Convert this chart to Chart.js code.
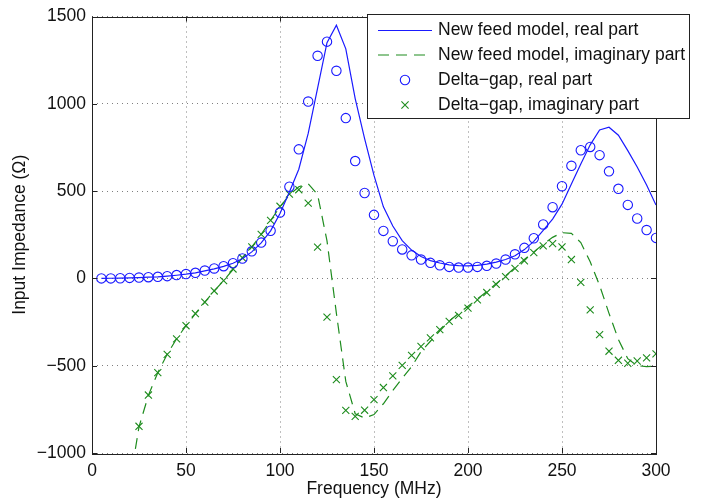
<!DOCTYPE html>
<html>
<head>
<meta charset="utf-8">
<script src="https://cdn.jsdelivr.net/npm/chart.js@4.4.1/dist/chart.umd.min.js"></script>
<style>
  html, body { margin: 0; padding: 0; background: #fff; }
</style>
</head>
<body>
<canvas id="zin" width="715" height="502"></canvas>
<script>
// frequencies (MHz)
const freqModel = [5,10,15,20,25,30,35,40,45,50,55,60,65,70,75,80,85,90,95,100,105,110,115,120,125,130,135,140,145,150,
  155,160,165,170,175,180,185,190,195,200,205,210,215,220,225,230,235,240,245,250,255,260,265,270,275,280,285,290,295,300];
const freqModelImag = [20,25,30,35,40,45,50,55,60,65,70,75,80,85,90,95,100,105,110,115,120,125,130,135,140,145,150,
  155,160,165,170,175,180,185,190,195,200,205,210,215,220,225,230,235,240,245,250,255,260,265,270,275,280,285,290,295,300];
const freqGapReal = freqModel;
const freqGapImag = [25,30,35,40,45,50,55,60,65,70,75,80,85,90,95,100,105,110,115,120,125,130,135,140,145,150,
  155,160,165,170,175,180,185,190,195,200,205,210,215,220,225,230,235,240,245,250,255,260,265,270,275,280,285,290,295,300];

// impedance (ohm)
const modelReal = [0,1,2,3,5,7,9,13,18,24,32,43,55,69,87,112,152,203,272,372,495,625,830,1090,1350,1450,1315,1030,800,590,
  410,300,216,162,125,102,88,78,73,72,75,82,93,108,130,165,212,275,340,425,540,655,765,850,866,820,732,638,535,420];
const modelImag = [-1180,-850,-670,-540,-435,-346,-271,-202,-136,-72,-13,51,118,180,252,332,410,478,525,542,480,215,-200,-590,-775,-800,-780,
  -718,-642,-572,-505,-420,-360,-300,-245,-200,-160,-118,-75,-30,15,62,108,152,195,235,262,258,205,95,-40,-200,-350,-460,-500,-505,-502];
const gapReal = [0,0,1,3,5,7,9,13,19,25,32,45,57,70,87,114,155,205,273,377,525,739,1013,1275,1356,1189,918,672,489,364,
  272,213,166,132,108,89,75,66,62,62,66,72,85,108,138,175,230,309,408,528,645,734,753,706,613,513,421,343,277,232];
const gapImag = [-847,-668,-540,-435,-346,-271,-202,-136,-72,-13,54,118,180,252,332,413,483,508,431,179,-222,-580,-756,-790,-755,-694,
  -625,-558,-498,-441,-390,-341,-293,-246,-212,-170,-123,-81,-34,10,57,101,148,186,199,180,108,-23,-180,-322,-417,-469,-486,-473,-455,-432];

const seriesNames = ["New feed model, real part", "New feed model, imaginary part",
  "Delta\u2212gap, real part", "Delta\u2212gap, imaginary part"];

const pts = (xs, ys) => xs.map((f, i) => ({ x: f, y: ys[i] }));
const FONT = "'Liberation Sans', Arial, Helvetica, sans-serif";
const FSIZE = 17.5;
const BLUE = "#1a1aff";
const GREEN = "#1e8c1e";

const frameAndLegend = {
  id: "frameAndLegend",
  afterDatasetsDraw(chart) {
    const { ctx, chartArea: a, scales: { x, y } } = chart;
    ctx.save();
    // axes box with inward ticks
    ctx.strokeStyle = "#222";
    ctx.lineWidth = 1;
    ctx.strokeRect(Math.round(a.left) + 0.5, Math.round(a.top) + 0.5,
      Math.round(a.right - a.left), Math.round(a.bottom - a.top));
    ctx.beginPath();
    x.ticks.forEach(t => {
      const px = Math.round(x.getPixelForValue(t.value)) + 0.5;
      ctx.moveTo(px, a.bottom); ctx.lineTo(px, a.bottom - 5);
      ctx.moveTo(px, a.top); ctx.lineTo(px, a.top + 5);
    });
    y.ticks.forEach(t => {
      const py = Math.round(y.getPixelForValue(t.value)) + 0.5;
      ctx.moveTo(a.left, py); ctx.lineTo(a.left + 5, py);
      ctx.moveTo(a.right, py); ctx.lineTo(a.right - 5, py);
    });
    ctx.stroke();

    // legend box
    const bx = 367.5, by = 14.5, bw = 322, bh = 104;
    ctx.fillStyle = "#fff";
    ctx.fillRect(bx, by, bw, bh);
    ctx.strokeStyle = "#222";
    ctx.strokeRect(bx, by, bw, bh);
    const rows = [30.5, 55, 80, 105];
    ctx.font = FSIZE + "px " + FONT;
    ctx.textBaseline = "middle";
    chart.data.datasets.forEach((ds, i) => {
      const ry = rows[i];
      ctx.save();
      ctx.strokeStyle = ds.borderColor;
      ctx.lineWidth = ds.borderWidth || 1;
      if (ds.showLine) {
        ctx.setLineDash(ds.borderDash || []);
        ctx.beginPath();
        ctx.moveTo(378, ry); ctx.lineTo(432, ry);
        ctx.stroke();
      } else if (ds.pointStyle === "circle") {
        ctx.beginPath();
        ctx.arc(405, ry, ds.pointRadius, 0, Math.PI * 2);
        ctx.stroke();
      } else {
        const r = ds.pointRadius * 0.72;
        ctx.beginPath();
        ctx.moveTo(405 - r, ry - r); ctx.lineTo(405 + r, ry + r);
        ctx.moveTo(405 - r, ry + r); ctx.lineTo(405 + r, ry - r);
        ctx.stroke();
      }
      ctx.restore();
      ctx.fillStyle = "#111";
      ctx.fillText(ds.label, 438, ry);
    });
    ctx.restore();
  }
};

const minusSign = v => String(v).replace("-", "\u2212");

new Chart(document.getElementById("zin"), {
  type: "scatter",
  data: {
    datasets: [
      {
        label: seriesNames[0],
        data: pts(freqModel, modelReal),
        showLine: true,
        borderColor: BLUE,
        borderWidth: 1.2,
        pointRadius: 0,
      },
      {
        label: seriesNames[1],
        data: pts(freqModelImag, modelImag),
        showLine: true,
        borderColor: GREEN,
        borderWidth: 1.2,
        borderDash: [11, 7],
        pointRadius: 0,
      },
      {
        label: seriesNames[2],
        data: pts(freqGapReal, gapReal),
        showLine: false,
        pointStyle: "circle",
        pointRadius: 4.7,
        borderColor: BLUE,
        borderWidth: 1.1,
        backgroundColor: "rgba(0,0,0,0)",
      },
      {
        label: seriesNames[3],
        data: pts(freqGapImag, gapImag),
        showLine: false,
        pointStyle: "crossRot",
        pointRadius: 5,
        borderColor: GREEN,
        borderWidth: 1.1,
      },
    ],
  },
  options: {
    responsive: false,
    animation: false,
    layout: { padding: { top: 13, right: 59, left: 0, bottom: 0 } },
    plugins: {
      legend: { display: false },
      tooltip: { enabled: false },
    },
    scales: {
      x: {
        type: "linear",
        min: 0,
        max: 300,
        ticks: {
          stepSize: 50,
          padding: 8,
          color: "#111",
          font: { family: FONT, size: FSIZE },
          callback: v => minusSign(v),
        },
        grid: { color: "rgba(0,0,0,0.5)", lineWidth: 1, drawTicks: false },
        border: { display: false, dash: [1, 4] },
        title: {
          display: true,
          text: "Frequency (MHz)",
          color: "#111",
          font: { family: FONT, size: FSIZE },
          padding: { top: 0, bottom: 2 },
        },
        afterFit: s => { s.height = 49; },
      },
      y: {
        min: -1000,
        max: 1500,
        ticks: {
          stepSize: 500,
          padding: 6,
          color: "#111",
          font: { family: FONT, size: FSIZE },
          callback: v => minusSign(v),
        },
        grid: { color: "rgba(0,0,0,0.5)", lineWidth: 1, drawTicks: false },
        border: { display: false, dash: [1, 4] },
        title: {
          display: true,
          text: "Input Impedance (\u03A9)",
          color: "#111",
          font: { family: FONT, size: FSIZE },
          padding: { top: 10, bottom: 0 },
        },
        afterFit: s => { s.width = 92; },
      },
    },
  },
  plugins: [frameAndLegend],
});
</script>
</body>
</html>
